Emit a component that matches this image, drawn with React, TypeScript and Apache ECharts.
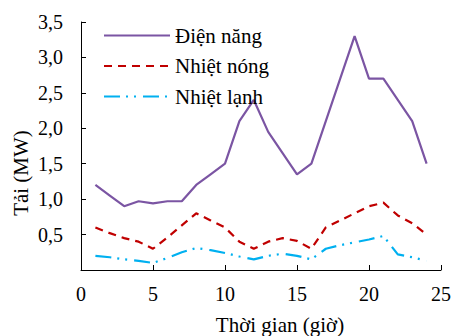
import React, { useEffect, useRef } from "react";
import * as echarts from "echarts";

const hours = [1, 2, 3, 4, 5, 6, 7, 8, 9, 10, 11, 12, 13, 14, 15, 16, 17, 18, 19, 20, 21, 22, 23, 24];
const dienNang = [1.2, 1.05, 0.9, 0.97, 0.94, 0.97, 0.97, 1.2, 1.35, 1.5, 2.1, 2.4, 1.95, 1.65, 1.35, 1.5, 2.1, 2.7, 3.3, 2.7, 2.7, 2.4, 2.1, 1.5];
const nhietNong = [0.6, 0.52, 0.45, 0.4, 0.3, 0.46, 0.63, 0.8, 0.7, 0.6, 0.4, 0.3, 0.4, 0.45, 0.41, 0.3, 0.6, 0.7, 0.8, 0.9, 0.95, 0.77, 0.66, 0.5];
const nhietLanh = [0.2, 0.18, 0.15, 0.13, 0.1, 0.17, 0.25, 0.31, 0.28, 0.24, 0.19, 0.15, 0.2, 0.23, 0.2, 0.15, 0.3, 0.35, 0.39, 0.43, 0.48, 0.22, 0.18, 0.13];
const seriesNames = ["Điện năng", "Nhiệt nóng", "Nhiệt lạnh"];
const xTitle = "Thời gian (giờ)";
const yTitle = "Tải (MW)";

const FONT = "'Liberation Serif', 'Times New Roman', serif";

export default function App() {
  const ref = useRef<HTMLDivElement>(null);
  useEffect(() => {
    if (!ref.current) return;
    const chart = echarts.init(ref.current, null, { renderer: "svg" });
    const pair = (arr: number[]) => hours.map((h, i) => [h, arr[i]]);
    chart.setOption({
      animation: false,
      backgroundColor: "#ffffff",
      grid: { left: 81, top: 22, width: 363, height: 248, containLabel: false },
      legend: {
        orient: "vertical",
        left: 98,
        top: 20,
        itemWidth: 66,
        itemHeight: 14,
        itemGap: 9.5,
        data: seriesNames,
        itemStyle: { opacity: 0 },
        textStyle: { fontFamily: FONT, fontSize: 21, color: "#000", lineHeight: 21 },
      },
      xAxis: {
        type: "value",
        min: 0,
        max: 25,
        interval: 5,
        axisLine: { show: true, lineStyle: { color: "#000", width: 1 } },
        axisTick: { show: true, inside: true, length: 5, lineStyle: { color: "#000" } },
        splitLine: { show: false },
        axisLabel: { margin: 14, fontFamily: FONT, fontSize: 20, color: "#000" },
      },
      yAxis: {
        type: "value",
        min: 0,
        max: 3.5,
        interval: 0.5,
        axisLine: { show: true, lineStyle: { color: "#000", width: 1 } },
        axisTick: { show: true, inside: true, length: 5, lineStyle: { color: "#000" } },
        splitLine: { show: false },
        axisLabel: {
          margin: 18,
          fontFamily: FONT,
          fontSize: 20,
          color: "#000",
          formatter: (v: number) => (v === 0 ? "" : v.toFixed(1).replace(".", ",")),
        },
      },
      graphic: [
        {
          type: "text",
          x: 280,
          y: 325,
          style: { text: xTitle, font: `21px ${FONT}`, fill: "#000", textAlign: "center", textVerticalAlign: "middle" },
        },
        {
          type: "text",
          x: 21,
          y: 173,
          rotation: Math.PI / 2,
          style: { text: yTitle, font: `21px ${FONT}`, fill: "#000", textAlign: "center", textVerticalAlign: "middle" },
        },
      ],
      series: [
        {
          name: seriesNames[0],
          type: "line",
          data: pair(dienNang),
          symbol: "none",
          lineStyle: { color: "#7B55A3", width: 2.2 },
          itemStyle: { color: "#7B55A3" },
        },
        {
          name: seriesNames[1],
          type: "line",
          data: pair(nhietNong),
          symbol: "none",
          lineStyle: { color: "#C00000", width: 2.2, type: [8, 6] },
          itemStyle: { color: "#C00000" },
        },
        {
          name: seriesNames[2],
          type: "line",
          data: pair(nhietLanh),
          symbol: "none",
          lineStyle: { color: "#00B0F0", width: 2.2, type: [16, 6, 2, 6, 2, 7] },
          itemStyle: { color: "#00B0F0" },
        },
      ],
    });
    return () => chart.dispose();
  }, []);
  return <div ref={ref} style={{ position: "fixed", left: 0, top: 0, width: 454, height: 336 }} />;
}
